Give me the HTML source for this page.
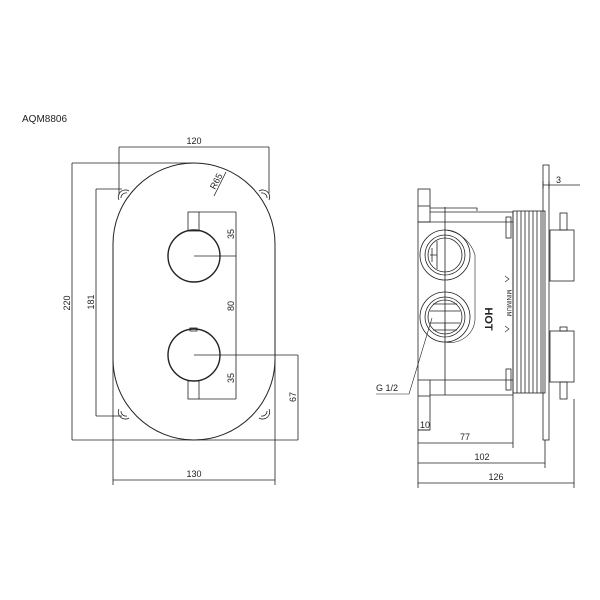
<!DOCTYPE html>
<html><head><meta charset="utf-8"><style>html,body{margin:0;padding:0;background:#fff}svg{display:block}</style></head>
<body>
<svg width="600" height="600" viewBox="0 0 600 600" xmlns="http://www.w3.org/2000/svg" font-family="Liberation Sans, sans-serif" font-size="9" fill="none" stroke="#222" stroke-width="0.8">
<rect width="600" height="600" fill="#fff" stroke="none"/>
<text x="22" y="122" fill="#222" stroke="none" font-size="10">AQM8806</text>

<!-- FRONT VIEW -->
<path d="M113,244 A81,81 0 0 1 275,244 L275,359 A81,81 0 0 1 113,359 Z" stroke-width="1"/>
<!-- lugs -->
<path d="M119,200 a7,7 0 0 1 10,-9" /><path d="M121,198 a5,5 0 0 1 6,-5"/>
<path d="M269,200 a7,7 0 0 0 -10,-9" /><path d="M267,198 a5,5 0 0 0 -6,-5"/>
<path d="M119,409 a7,7 0 0 0 10,9" /><path d="M121,411 a5,5 0 0 0 6,5"/>
<path d="M269,409 a7,7 0 0 1 -10,9" /><path d="M267,411 a5,5 0 0 1 -6,5"/>
<!-- knobs -->
<circle cx="194" cy="256" r="26" stroke-width="1.4"/>
<circle cx="194" cy="355" r="26" stroke-width="1.4"/>
<rect x="188" y="212" width="11" height="19"/>
<rect x="188" y="381" width="11" height="18"/>
<rect x="190" y="328" width="7" height="3"/>
<!-- 120 dim -->
<path d="M119,147 H269 M119,147 V195 M269,147 V193"/>
<text x="194" y="144" fill="#222" stroke="none" text-anchor="middle">120</text>
<!-- 220 -->
<path d="M72,163 V440 M72,163 H194 M72,440 H298"/>
<text transform="translate(70,303) rotate(-90)" fill="#222" stroke="none" text-anchor="middle">220</text>
<!-- 181 -->
<path d="M96,189 V416 M96,189 H122 M96,416 H122"/>
<text transform="translate(94,302) rotate(-90)" fill="#222" stroke="none" text-anchor="middle">181</text>
<!-- 130 -->
<path d="M113,360 V485 M275,360 V485 M113,480 H275"/>
<text x="194" y="477" fill="#222" stroke="none" text-anchor="middle">130</text>
<!-- right dims -->
<path d="M236,212 V399 M199,212 H236 M194,256 H236 M194,355 H298 M199,399 H236 M298,355 V440"/>
<text transform="translate(234,234) rotate(-90)" fill="#222" stroke="none" text-anchor="middle">35</text>
<text transform="translate(234,306) rotate(-90)" fill="#222" stroke="none" text-anchor="middle">80</text>
<text transform="translate(234,378) rotate(-90)" fill="#222" stroke="none" text-anchor="middle">35</text>
<text transform="translate(296,397) rotate(-90)" fill="#222" stroke="none" text-anchor="middle">67</text>
<!-- R65 -->
<path d="M226,172 L214,196"/>
<text transform="translate(215,190) rotate(-62)" fill="#222" stroke="none">R65</text>

<!-- SIDE VIEW -->
<rect x="543" y="165" width="6" height="275"/>
<path d="M543,185 H580 M543,181 V189 M549,181 V189"/>
<text x="556" y="183" fill="#222" stroke="none">3</text>
<!-- flanges -->
<rect x="418" y="189" width="12" height="33"/>
<path d="M418,206 H430"/>
<rect x="418" y="380" width="12" height="50"/>
<path d="M418,396 H430"/>
<!-- body -->
<path d="M430,208 H477 V211 M430,212 H513 M418,222 H513 M418,222 V380 M430,380 H513 M430,395 H513 M513,212 V395 M445,207 V395"/>
<rect x="506" y="217" width="5" height="21"/>
<rect x="506" y="369" width="5" height="21"/>
<!-- ribs -->
<rect x="513" y="211" width="32" height="182"/>
<path d="M517,211V393 M521,211V393 M525,211V393 M529,211V393 M533,211V393 M537,211V393 M541,211V393"/>
<!-- ports -->
<circle cx="445" cy="255" r="25"/><circle cx="445" cy="255" r="20"/><circle cx="445" cy="255" r="17"/>
<path d="M437,241 V269 M437,255 H430 M432,248 V262"/>
<circle cx="445" cy="317" r="25"/><circle cx="445" cy="317" r="20"/><circle cx="445" cy="317" r="17"/>
<path d="M433,304 H457 M430,311 H460 M430,323 H460 M433,330 H457 M445,323 V330"/>
<path d="M445,230 A35,35 0 0 1 475,255 V320 A25,25 0 0 1 445,342" stroke-width="0.6"/>
<text transform="translate(485,319) rotate(90)" fill="#222" stroke="none" font-size="11" font-weight="bold" text-anchor="middle">HOT</text>
<text transform="translate(507,303) rotate(90)" fill="#222" stroke="none" font-size="6" text-anchor="middle">MINIMUM</text>
<path d="M505,276 l4,3 l-4,3 M505,326 l4,3 l-4,3" stroke-width="0.6"/>
<!-- handles -->
<rect x="550" y="230" width="24" height="51"/>
<rect x="560" y="213" width="7" height="17"/>
<rect x="550" y="331" width="24" height="51"/>
<rect x="560" y="327" width="7" height="4"/>
<rect x="560" y="382" width="7" height="17"/>
<!-- G1/2 -->
<path d="M376,394 H409 L432,318" stroke-width="0.6"/>
<text x="376" y="391" fill="#222" stroke="none">G 1/2</text>
<!-- bottom dims -->
<path d="M418,430 V488 M430,430 H418 M513,395 V448 M545,440 V468 M574,399 V488 M418,443 H513 M418,463 H545 M418,483 H574"/>
<text x="420" y="428" fill="#222" stroke="none">10</text>
<text x="465" y="440" fill="#222" stroke="none" text-anchor="middle">77</text>
<text x="482" y="460" fill="#222" stroke="none" text-anchor="middle">102</text>
<text x="496" y="480" fill="#222" stroke="none" text-anchor="middle">126</text>
</svg>
</body></html>
